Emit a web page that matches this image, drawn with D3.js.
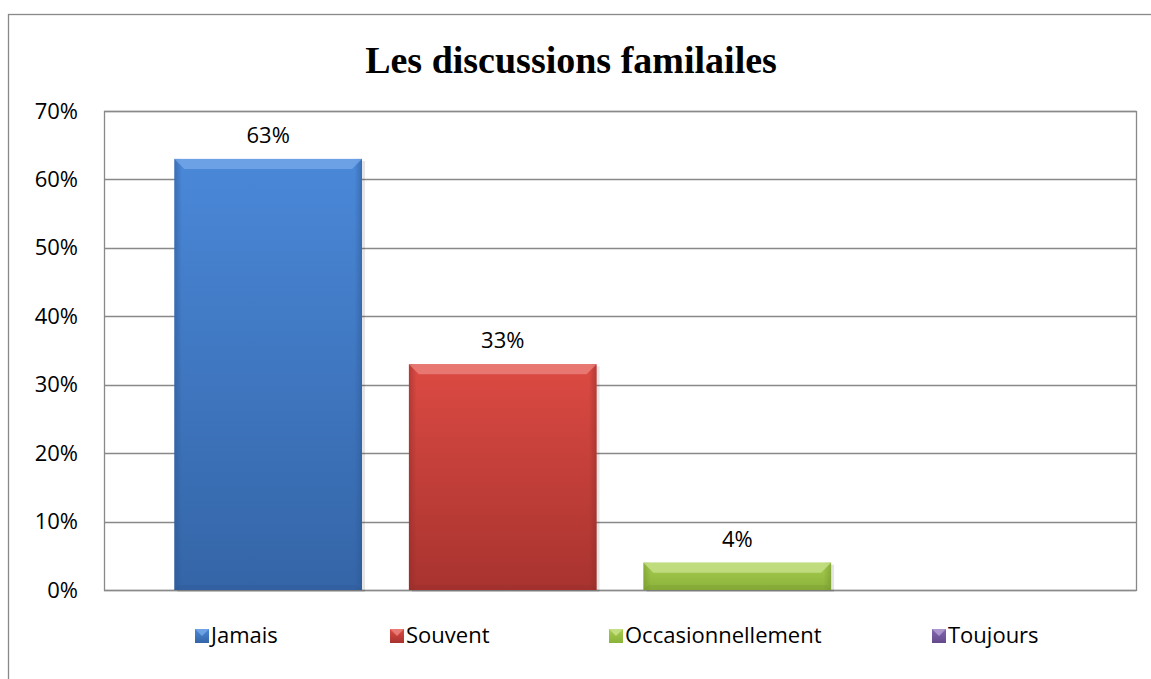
<!DOCTYPE html>
<html><head><meta charset="utf-8">
<script src="https://cdn.jsdelivr.net/npm/d3@7"></script>
<style>body{margin:0;background:#fff}svg{display:block}</style>
</head><body>
<script>
const title = "Les discussions familailes";
const series = ["Jamais","Souvent","Occasionnellement","Toujours"];
const values = [0.63, 0.33, 0.04, 0];
const tickValues = [0,0.1,0.2,0.3,0.4,0.5,0.6,0.7];
const colors = {
  Jamais:{top:"#4a88d8",bot:"#3465a7",edge:"#2c5590",hi:"#78aaea"},
  Souvent:{top:"#dc4a43",bot:"#a8332f",edge:"#8e2a27",hi:"#ec8781"},
  Occasionnellement:{top:"#a6cc4f",bot:"#8bb23a",edge:"#6f8f2c",hi:"#c9e38f"},
  Toujours:{top:"#8467b0",bot:"#644a8c",edge:"#513b73",hi:"#b7a2d6"}
};
const W=1151,H=679;
const FONT="'Open Sans', sans-serif";
const svg=d3.select("body").append("svg").attr("width",W).attr("height",H);
const defs=svg.append("defs");
series.forEach((s,i)=>{
  const g=defs.append("linearGradient").attr("id","g"+i).attr("x1",0).attr("y1",0).attr("x2",0).attr("y2",1);
  g.append("stop").attr("offset","0%").attr("stop-color",colors[s].top);
  g.append("stop").attr("offset","100%").attr("stop-color",colors[s].bot);
  const h=defs.append("linearGradient").attr("id","h"+i).attr("x1",0).attr("y1",0).attr("x2",1).attr("y2",0);
  h.append("stop").attr("offset","0%").attr("stop-color",colors[s].edge).attr("stop-opacity",0.5);
  h.append("stop").attr("offset","4%").attr("stop-color",colors[s].edge).attr("stop-opacity",0);
  h.append("stop").attr("offset","96%").attr("stop-color",colors[s].edge).attr("stop-opacity",0);
  h.append("stop").attr("offset","100%").attr("stop-color",colors[s].edge).attr("stop-opacity",0.5);
});
// outer border
svg.append("rect").attr("x",8.5).attr("y",14.5).attr("width",1160).attr("height",700)
  .attr("fill","none").attr("stroke","#898989").attr("stroke-width",1.3);

const m={l:104,r:1136,t:111,b:590};
const y=d3.scaleLinear().domain([0,0.7]).range([m.b,m.t]);
const x=d3.scaleBand().domain(series).range([m.l,m.r]).paddingInner(0.2).paddingOuter(0.3);

// gridlines
svg.append("g").selectAll("line").data(tickValues).join("line")
  .attr("x1",m.l).attr("x2",m.r).attr("y1",d=>Math.round(y(d))+0.5).attr("y2",d=>Math.round(y(d))+0.5)
  .attr("stroke","#898989").attr("stroke-width",1.3);
// plot border
svg.append("rect").attr("x",m.l+0.5).attr("y",m.t+0.5).attr("width",m.r-m.l).attr("height",m.b-m.t)
  .attr("fill","none").attr("stroke","#898989").attr("stroke-width",1.3);

// y axis
const yAxis=d3.axisLeft(y).tickValues(tickValues).tickFormat(d3.format(".0%")).tickSize(0).tickPadding(26);
const ya=svg.append("g").attr("transform",`translate(${m.l},0)`).call(yAxis);
ya.select(".domain").remove();
ya.selectAll("text").attr("font-family",FONT).attr("font-size",22).attr("fill","#000");

// bars
const bars=svg.append("g");
series.forEach((s,i)=>{
  const v=values[i]; if(v<=0) return;
  const x0=x(s), bw=x.bandwidth(), y0=y(v), h=y(0)-y(v);
  const g=bars.append("g");
  g.append("rect").attr("x",x0+3).attr("y",y0+2).attr("width",bw).attr("height",h).attr("fill","#000").attr("opacity",0.1);
  g.append("rect").attr("x",x0).attr("y",y0).attr("width",bw).attr("height",h).attr("fill",`url(#g${i})`);
  g.append("rect").attr("x",x0).attr("y",y0).attr("width",bw).attr("height",h).attr("fill",`url(#h${i})`);
  const bev=Math.min(10,h/2);
  g.append("path").attr("d",`M${x0},${y0}L${x0+bw},${y0}L${x0+bw-bev},${y0+bev}L${x0+bev},${y0+bev}Z`)
    .attr("fill",colors[s].hi).attr("opacity",0.75);
  g.append("path").attr("d",`M${x0},${y0+h}L${x0+bw},${y0+h}L${x0+bw-bev*0.5},${y0+h-bev*0.5}L${x0+bev*0.5},${y0+h-bev*0.5}Z`)
    .attr("fill",colors[s].edge).attr("opacity",0.25);
  svg.append("text").attr("x",x0+bw/2).attr("y",y0-16).attr("text-anchor","middle")
    .attr("font-family",FONT).attr("font-size",22).attr("fill","#000")
    .text(d3.format(".0%")(v));
});

// title
svg.append("text").attr("x",571).attr("y",73).attr("text-anchor","middle")
  .attr("font-family","'Liberation Serif', serif").attr("font-weight","bold").attr("font-size",38)
  .attr("fill","#000").text(title);

// legend
const legX=[195,390,609,932];
const lg=svg.append("g");
series.forEach((s,i)=>{
  const gx=legX[i], gy=629;
  lg.append("rect").attr("x",gx).attr("y",gy).attr("width",14).attr("height",14).attr("fill",`url(#g${i})`);
  lg.append("path").attr("d",`M${gx},${gy}L${gx+14},${gy}L${gx+7},${gy+7}Z`).attr("fill",colors[s].hi).attr("opacity",0.8);
  lg.append("text").attr("x",gx+16).attr("y",gy+14).attr("font-family",FONT).attr("font-size",22).attr("fill","#000").text(s);
});
</script>
</body></html>
